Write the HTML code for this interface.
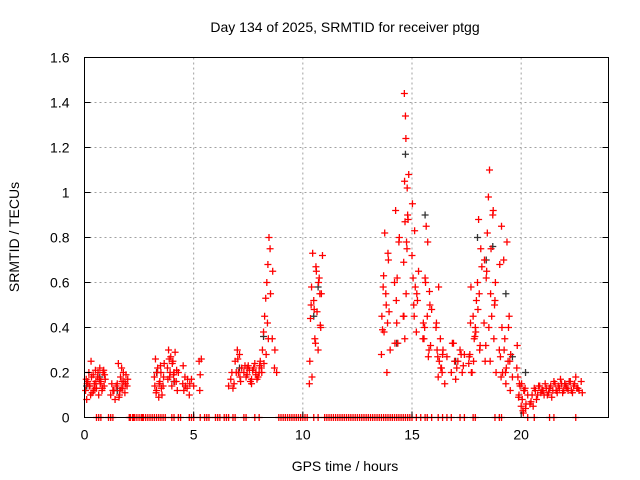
<!DOCTYPE html>
<html><head><meta charset="utf-8"><style>
html,body{margin:0;padding:0;background:#fff}
svg{display:block;font-family:"Liberation Sans",sans-serif}
</style></head><body>
<svg id="chart" width="640" height="480">
<text x="345" y="32" font-size="14" text-anchor="middle">Day 134 of 2025, SRMTID for receiver ptgg</text>
<text x="345" y="471" font-size="14" text-anchor="middle">GPS time / hours</text>
<text transform="translate(19,237) rotate(-90)" font-size="14" text-anchor="middle">SRMTID / TECUs</text>
<g id="grid"></g>
<g id="marks"></g>
<rect x="84.5" y="57.5" width="524" height="360" fill="none" stroke="#000" stroke-width="1"/>
<g id="ticks"></g>
</svg>
<script>
const xTicks=[0,5,10,15,20];
const yTicks=[0,0.2,0.4,0.6,0.8,1,1.2,1.4,1.6];
const yTickLabels=["0","0.2","0.4","0.6","0.8","1","1.2","1.4","1.6"];
const redT=[0.05,0.1,0.15,0.2,0.25,0.3,0.35,0.4,0.45,0.5,0.55,0.6,0.65,0.7,0.75,0.8,0.85,0.9,0.95,
1.2,1.3,1.4,1.5,1.55,1.6,1.65,1.7,1.75,1.8,1.85,1.9,1.95,
3.2,3.25,3.3,3.35,3.4,3.45,3.5,3.55,3.6,3.65,3.8,3.85,3.9,3.95,4.0,4.05,4.1,4.15,4.2,4.25,4.3,4.5,4.55,4.6,4.7,4.8,4.9,5.0,5.25,5.3,5.35,
6.6,6.7,6.8,6.9,7.0,7.05,7.1,7.15,7.2,7.3,7.4,7.5,7.6,7.7,7.8,7.9,8.0,8.05,8.1,8.15,8.2,8.25,8.3,8.35,8.4,8.45,8.5,8.6,8.7,8.8,
10.3,10.35,10.4,10.45,10.5,10.55,10.6,10.65,10.7,10.75,10.8,10.85,10.9,
13.6,13.65,13.7,13.75,13.8,13.85,13.9,13.95,14.0,14.2,14.25,14.3,14.35,14.4,14.6,14.62,14.65,14.68,14.7,14.72,14.75,14.78,14.8,14.85,
15.0,15.05,15.1,15.15,15.2,15.25,15.3,15.5,15.55,15.6,15.65,15.7,15.75,15.8,15.85,15.9,
16.1,16.15,16.2,16.25,16.3,16.35,16.4,16.5,16.6,16.8,16.9,17.0,17.1,17.2,17.3,17.4,
17.6,17.65,17.7,17.75,17.8,17.85,17.9,17.95,18.0,18.05,18.1,18.15,18.2,
18.3,18.35,18.4,18.45,18.5,18.55,18.6,18.65,18.7,18.75,18.8,18.85,
19.0,19.05,19.1,19.15,19.2,19.25,19.3,19.35,19.4,19.45,19.5,19.6,
19.8,19.85,19.9,19.95,20.0,20.05,20.1,20.15,20.2,20.3,
20.4,20.5,20.6,20.7,20.8,20.9,21.0,21.1,21.2,21.3,21.4,21.5,21.6,21.7,21.8,21.9,22.0,22.1,22.2,22.3,22.4,22.5,22.6,22.8,
0.12,0.22,0.32,0.42,0.52,0.62,0.72,0.82,0.92,0.08,0.28,0.48,0.68,0.88,
1.25,1.35,1.45,1.58,1.68,1.78,1.88,1.98,1.62,1.72,
3.22,3.32,3.42,3.52,3.62,3.28,3.48,3.82,3.92,4.02,4.12,4.22,3.88,4.08,4.52,4.62,4.72,4.82,5.28,
6.75,6.85,6.95,7.02,7.12,7.35,7.45,7.55,7.65,7.75,7.85,7.95,7.45,7.65,7.85,8.02,8.12,8.22,8.32,8.42,8.38,8.52,8.62,8.72,
10.32,10.42,10.52,10.62,10.72,10.82,10.38,10.58,10.78,
13.62,13.72,13.82,13.92,13.68,13.88,14.22,14.32,14.42,14.28,14.63,14.67,14.73,14.77,14.82,14.66,
15.02,15.12,15.22,15.08,15.52,15.62,15.72,15.82,15.58,15.78,
16.12,16.22,16.32,16.42,16.18,16.38,16.85,16.95,17.05,17.25,17.35,
17.62,17.72,17.82,17.92,18.02,18.12,17.68,17.88,18.08,
18.32,18.42,18.52,18.62,18.72,18.82,18.38,18.58,18.78,
19.02,19.12,19.22,19.32,19.42,19.52,19.08,19.28,19.48,
19.82,19.92,20.02,20.12,20.22,19.88,20.08,20.18,
20.45,20.55,20.65,20.75,20.85,20.95,21.05,21.15,21.25,21.35,21.45,21.55,21.65,21.75,21.85,21.95,22.05,22.15,22.25,22.35,22.45,22.55,22.65,22.75];
const redV=[0.12,0.08,0.16,0.2,0.14,0.25,0.11,0.19,0.15,0.21,0.13,0.18,0.1,0.22,0.16,0.12,0.2,0.14,0.17,
0.1,0.12,0.08,0.15,0.24,0.1,0.18,0.22,0.13,0.16,0.11,0.19,0.14,
0.18,0.26,0.12,0.22,0.09,0.16,0.2,0.1,0.14,0.24,0.22,0.3,0.18,0.27,0.14,0.25,0.2,0.29,0.16,0.12,0.2,0.15,0.12,0.18,0.13,0.1,0.17,0.14,0.25,0.19,0.26,
0.14,0.17,0.13,0.25,0.3,0.2,0.28,0.16,0.22,0.2,0.18,0.23,0.16,0.21,0.24,0.17,0.2,0.25,0.22,0.3,0.38,0.45,0.53,0.6,0.68,0.8,0.75,0.35,0.22,0.2,0.15,
0.44,0.58,0.73,0.52,0.35,0.67,0.47,0.3,0.62,0.41,0.55,0.72,0.28,
0.39,0.63,0.82,0.55,0.2,0.73,0.47,0.3,0.6,0.92,0.42,0.33,0.78,0.45,0.69,1.44,0.87,1.34,1.24,0.78,1.02,0.9,1.08,0.72,
0.62,0.45,0.58,0.38,0.52,0.65,0.35,0.35,0.62,0.85,0.45,0.27,0.56,0.32,0.48,0.4,
0.3,0.18,0.25,0.35,0.22,0.28,0.15,0.27,0.2,0.33,0.17,0.25,0.3,0.2,0.28,0.24,
0.28,0.58,0.2,0.45,0.35,0.4,0.52,0.6,0.88,0.3,0.75,0.67,0.42,
0.25,0.62,0.82,0.98,1.1,0.55,0.45,0.9,0.35,0.52,0.2,0.3,
0.27,0.85,0.2,0.7,0.35,0.15,0.78,0.25,0.45,0.12,0.18,0.22,
0.18,0.1,0.14,0.05,0.08,0.02,0.12,0.04,0.1,0.06,
0.1,0.13,0.08,0.14,0.11,0.12,0.15,0.1,0.13,0.09,0.16,0.12,0.14,0.17,0.11,0.15,0.13,0.16,0.12,0.14,0.18,0.13,0.11,0.15,
0.14,0.18,0.12,0.16,0.2,0.15,0.13,0.19,0.17,0.1,0.13,0.17,0.21,0.15,
0.12,0.14,0.09,0.13,0.2,0.15,0.17,0.12,0.16,0.14,
0.2,0.15,0.13,0.18,0.11,0.23,0.17,0.2,0.24,0.16,0.21,0.26,0.19,0.23,0.14,0.17,0.15,0.12,0.2,
0.15,0.2,0.26,0.18,0.23,0.19,0.21,0.17,0.22,0.2,0.18,0.22,0.15,0.19,0.23,0.2,0.24,0.28,0.35,0.42,0.55,0.65,0.3,0.25,0.18,
0.48,0.65,0.6,0.4,0.5,0.33,0.55,0.45,0.38,
0.5,0.7,0.58,0.42,0.33,0.62,0.8,0.52,0.45,0.35,0.55,0.75,0.88,1.05,0.95,0.83,
0.55,0.5,0.42,0.6,0.78,0.5,0.4,0.3,0.42,0.58,
0.22,0.3,0.27,0.2,0.33,0.25,0.22,0.28,0.23,0.27,0.2,
0.25,0.38,0.48,0.32,0.42,0.36,0.55,0.7,0.65,
0.4,0.75,0.92,0.6,0.32,0.25,0.5,0.68,0.4,
0.3,0.22,0.4,0.28,0.18,0.2,0.25,0.32,0.15,
0.15,0.12,0.06,0.09,0.03,0.13,0.07,0.05,
0.12,0.1,0.14,0.12,0.1,0.13,0.11,0.14,0.12,0.15,0.11,0.13,0.15,0.12,0.14,0.12,0.16,0.11,0.15,0.13,0.12,0.16,0.13,0.14];
const blackT=[0.1,0.7,1.5,3.3,4.1,7.1,8.2,10.5,10.7,14.3,14.7,15.6,17.0,18.0,18.4,18.7,19.3,19.6,20.2,21.3,22.0];
const blackV=[0.14,0.18,0.12,0.2,0.16,0.22,0.36,0.45,0.58,0.33,1.17,0.9,0.25,0.8,0.7,0.76,0.55,0.27,0.2,0.13,0.15];
const zeroT=[0.55,0.65,0.75,1.1,1.2,1.3,2.05,2.1,2.2,2.25,2.3,2.4,2.5,2.6,2.65,2.7,2.8,2.9,3.0,3.1,3.2,3.3,3.4,3.5,3.6,3.7,4.0,4.1,4.3,4.4,4.8,4.9,5.0,5.3,5.5,5.6,5.7,6.0,6.1,6.2,6.4,6.5,6.6,6.8,6.9,7.3,7.4,7.8,8.0,8.9,9.0,9.1,9.2,9.3,9.4,9.5,9.6,9.7,9.8,9.9,10.0,10.1,10.2,10.5,10.7,11.0,11.1,11.2,11.3,11.4,11.5,11.6,11.7,11.8,11.9,12.0,12.1,12.2,12.3,12.4,12.5,12.6,12.7,12.8,12.9,13.0,13.1,13.2,13.3,13.4,13.5,13.6,13.7,13.8,13.9,14.0,14.1,14.2,14.3,14.4,14.5,14.6,14.7,14.8,14.9,15.0,15.2,15.4,15.6,15.7,15.9,16.2,16.4,16.6,16.8,17.2,17.4,17.8,17.9,18.8,19.0,19.1,20.3,20.6,21.3,21.5,22.5];
const xMin=0,xMax=24,yMin=0,yMax=1.6,L=84.5,R=608.5,T=57.5,B=417.5;
const sx=v=>L+(v-xMin)/(xMax-xMin)*(R-L);
const sy=v=>B-(v-yMin)/(yMax-yMin)*(B-T);
const NS="http://www.w3.org/2000/svg";
const grid=document.getElementById('grid'),ticks=document.getElementById('ticks'),marks=document.getElementById('marks');
function mk(tag,attrs,parent){const e=document.createElementNS(NS,tag);for(const k in attrs)e.setAttribute(k,attrs[k]);parent.appendChild(e);return e;}
xTicks.forEach(v=>{const x=sx(v);
 if(v>xMin){const g=mk('line',{x1:x,x2:x,y1:T,y2:B,stroke:'#a0a0a0','stroke-dasharray':'2,3'},grid);
 
 }
 const t=mk('line',{x1:x,x2:x,y1:B,y2:B-6,stroke:'#000'},ticks);
 
 
 const tx=mk('text',{x:x,y:B+22,'font-size':14,'text-anchor':'middle'},ticks);tx.textContent=v;
 
 });
yTicks.forEach((v,i)=>{const y=sy(v);
 if(v>yMin&&v<yMax){const g=mk('line',{x1:L,x2:R,y1:y,y2:y,stroke:'#a0a0a0','stroke-dasharray':'2,3'},grid);
 
 }
 const t=mk('line',{x1:L,x2:L+6,y1:y,y2:y,stroke:'#000'},ticks);
 
 
 const t2=mk('line',{x1:R,x2:R-6,y1:y,y2:y,stroke:'#000'},ticks);
 
 
 const tx=mk('text',{x:L-15,y:y+5,'font-size':14,'text-anchor':'end'},ticks);tx.textContent=yTickLabels[i];
 
 });
function plus(t,v,col,name){const x=sx(t),y=sy(v);
 const p=mk('path',{d:`M${x-3.5},${y}H${x+3.5}M${x},${y-3.5}V${y+3.5}`,stroke:col,'stroke-width':1.3,fill:'none'},marks);
 
 }
blackT.forEach((t,i)=>plus(t,blackV[i],'#333','black-point'));
redT.forEach((t,i)=>plus(t,redV[i],'#ff0000','red-point'));
zeroT.forEach(t=>plus(t,0,'#ff0000','zero-point'));
</script>
</body></html>
